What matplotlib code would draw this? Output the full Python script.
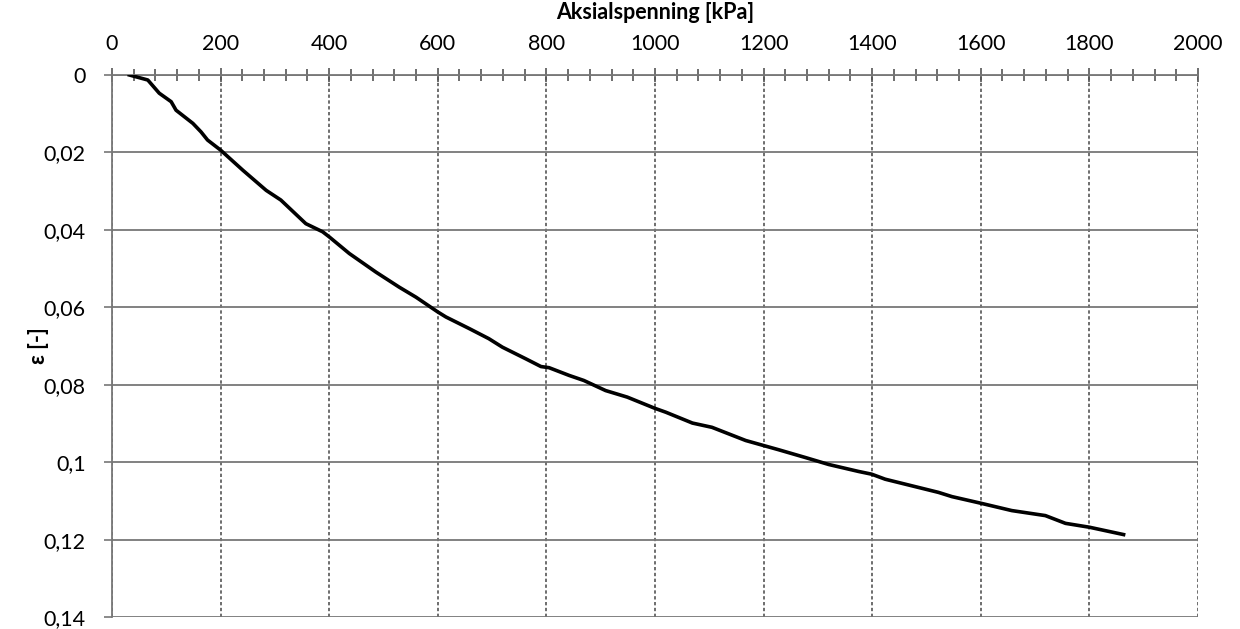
"""Oedometer curve: axial stress vs strain."""

import matplotlib

matplotlib.use("Agg")
import matplotlib.pyplot as plt
from matplotlib.ticker import FuncFormatter, MultipleLocator

# data
stress_kpa = [32, 66, 87, 109, 118, 149, 164, 176, 200, 241, 284, 311, 357, 388,
              400, 437, 486, 529, 560, 600, 615, 658, 694, 719, 762, 790, 805,
              842, 869, 909, 949, 1000, 1020, 1069, 1105, 1167, 1200, 1228, 1277,
              1320, 1375, 1399, 1424, 1522, 1547, 1600, 1657, 1719, 1756, 1800,
              1863]
strain = [0.0, 0.0013, 0.0047, 0.0069, 0.0091, 0.0125, 0.0147, 0.0168, 0.0194,
          0.0246, 0.0298, 0.0323, 0.0384, 0.0405, 0.0418, 0.0461, 0.0509, 0.0548,
          0.0574, 0.0612, 0.0625, 0.0655, 0.0681, 0.0703, 0.0733, 0.0753, 0.0756,
          0.0776, 0.0789, 0.0815, 0.0832, 0.0861, 0.0871, 0.0899, 0.0910, 0.0944,
          0.0957, 0.0968, 0.0988, 0.1006, 0.1024, 0.1031, 0.1044, 0.1078, 0.1089,
          0.1106, 0.1125, 0.1138, 0.1158, 0.1168, 0.1187]

plt.rcParams["font.family"] = ["Lato", "DejaVu Sans"]

fig = plt.figure(figsize=(12.4, 6.29), dpi=100)
ax = fig.add_axes([0.0903, 0.019, 0.8758, 0.8618])

ax.plot(stress_kpa, strain, color="black", linewidth=2.6, zorder=3)

ax.set_xlim(0, 2000)
ax.set_ylim(0.14, 0)
ax.xaxis.set_major_locator(MultipleLocator(200))
ax.xaxis.set_minor_locator(MultipleLocator(40))
ax.yaxis.set_major_locator(MultipleLocator(0.02))
ax.yaxis.set_major_formatter(
    FuncFormatter(lambda v, _: f"{v:.2f}".rstrip("0").rstrip(".").replace(".", ",") if v else "0"))

ax.xaxis.tick_top()
ax.xaxis.set_label_position("top")
ax.tick_params(axis="x", which="major", direction="inout", length=10, width=1.2,
               color="#555555", labelsize=15.5, pad=10)
ax.tick_params(axis="x", which="minor", direction="inout", length=8, width=1.2,
               color="#555555")
ax.tick_params(axis="y", direction="out", length=6, width=1.2, color="#777777",
               labelsize=15.5, pad=13)

ax.grid(axis="x", which="major", color="#555555", linestyle=(0, (2, 1.5)), linewidth=1.2)
ax.grid(axis="y", which="major", color="#777777", linestyle="-", linewidth=1.3)

for side in ("right", "bottom"):
    ax.spines[side].set_visible(False)
for side in ("top", "left"):
    ax.spines[side].set_color("#777777")
    ax.spines[side].set_linewidth(1.3)

ax.set_xlabel("Aksialspenning [kPa]", fontsize=15.5, fontweight="bold", labelpad=11)
ax.set_ylabel("ε [-]", fontsize=15.5, fontweight="bold")
ax.yaxis.set_label_coords(-0.058, 0.5)

fig.savefig("out.png", dpi=100)
